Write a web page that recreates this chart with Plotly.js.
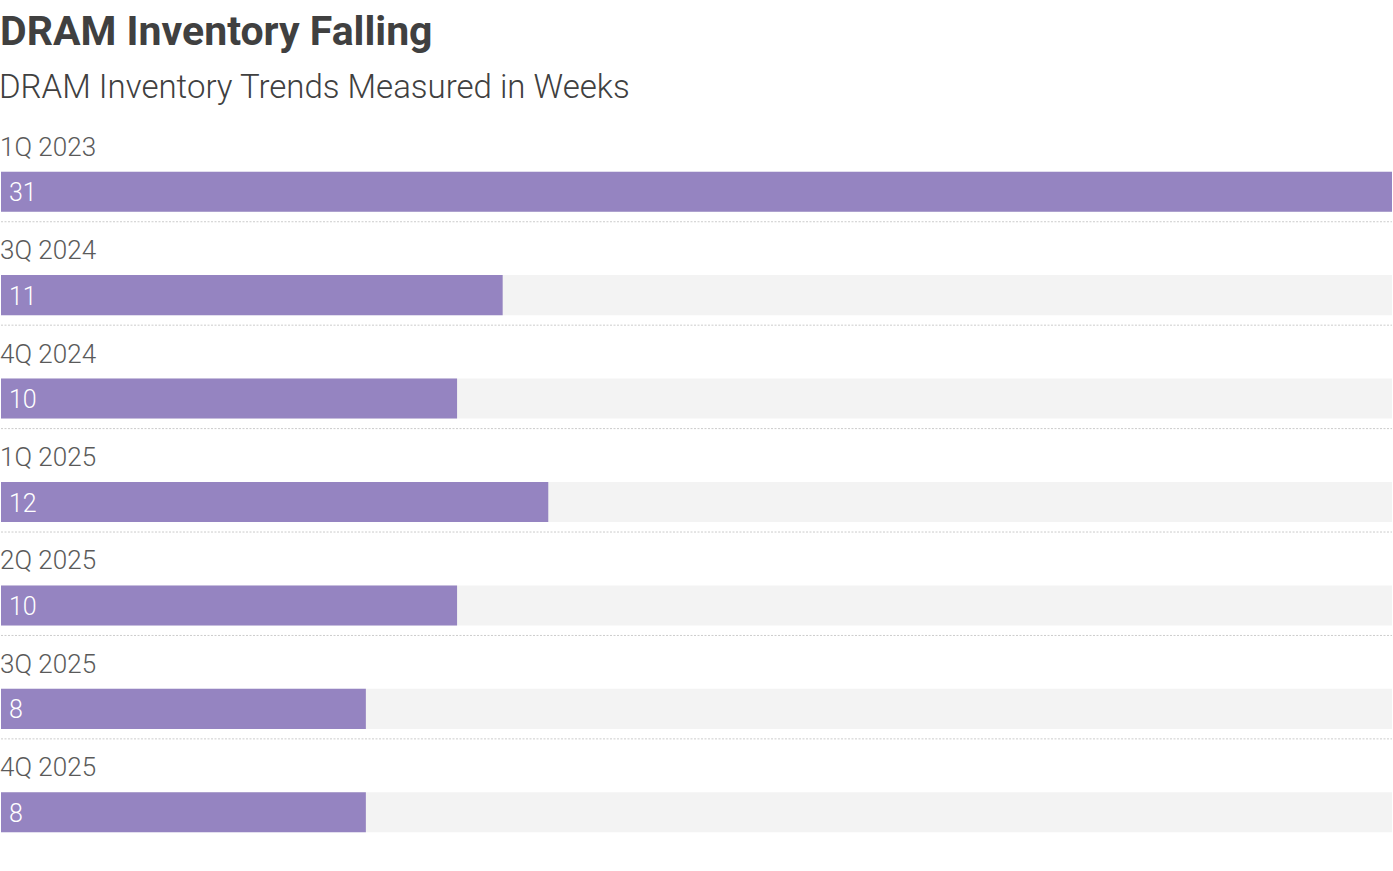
<!DOCTYPE html>
<html>
<head>
<meta charset="utf-8">
<script src="https://cdn.plot.ly/plotly-3.0.1.min.js"></script>
<style>html,body{margin:0;padding:0;background:#fff;}#chart{width:1393px;height:871px;}</style>
</head>
<body>
<div id="chart"></div>
<script>
const categories = ["1Q 2023", "3Q 2024", "4Q 2024", "1Q 2025", "2Q 2025", "3Q 2025", "4Q 2025"];
const weeks = [31, 11, 10, 12, 10, 8, 8];
const titleText = "DRAM Inventory Falling";
const subtitleText = "DRAM Inventory Trends Measured in Weeks";

const FONT = "Roboto, 'Noto Sans', sans-serif";
const PURPLE = "#9584c1";
const pitch = 103.33; // px per category
const barPx = 40;
const halfBar = (barPx / 2) / pitch;

const shapes = [];
categories.forEach((c, i) => {
  shapes.push({
    type: "rect", layer: "below", xref: "paper", yref: "y",
    x0: 0, x1: 1, y0: i - halfBar, y1: i + halfBar,
    fillcolor: "#f3f3f3", line: {width: 0}
  });
  if (i < categories.length - 1) {
    const yy = i + 30 / pitch;
    shapes.push({
      type: "line", layer: "below", xref: "paper", yref: "y",
      x0: 0, x1: 1, y0: yy, y1: yy,
      line: {color: "#cccccc", width: 1, dash: "2px,1.5px"}
    });
  }
});

const annotations = [];
categories.forEach((c, i) => {
  annotations.push({
    xref: "paper", yref: "y", x: 0, y: i, yshift: 45, xshift: -3,
    xanchor: "left", yanchor: "middle", showarrow: false,
    text: c, font: {family: FONT, size: 26, color: "#5a5a5a", weight: 300}
  });
  annotations.push({
    xref: "x", yref: "y", x: 0, y: i, xshift: 6, yshift: -1,
    xanchor: "left", yanchor: "middle", showarrow: false,
    text: String(weeks[i]), font: {family: FONT, size: 25, color: "#ffffff", weight: 300}
  });
});
annotations.push({
  xref: "paper", yref: "paper", x: 0, y: 1 + (140.3 - 87) / 723.3, xshift: -4,
  xanchor: "left", yanchor: "middle", showarrow: false,
  text: subtitleText, font: {family: FONT, size: 33, color: "#404040", weight: 300}
});

const data = [{
  type: "bar", orientation: "h",
  y: categories, x: weeks,
  width: 2 * halfBar,
  marker: {color: PURPLE, line: {width: 0}},
  hoverinfo: "skip", textposition: "none"
}];

const layout = {
  width: 1393, height: 871,
  margin: {l: 1, r: 1, t: 140.3, b: 7.4, pad: 0},
  paper_bgcolor: "#ffffff", plot_bgcolor: "rgba(0,0,0,0)",
  showlegend: false,
  title: {
    text: "<b>" + titleText + "</b>",
    xref: "container", x: 0, xanchor: "left",
    yref: "container", y: 1 - 31 / 871, yanchor: "middle",
    font: {family: FONT, size: 41, color: "#404040"}
  },
  xaxis: {range: [0, 30.5], showticklabels: false, showgrid: false, zeroline: false, showline: false, fixedrange: true},
  yaxis: {type: "category", range: [6.5, -0.5], showticklabels: false, showgrid: false, zeroline: false, showline: false, fixedrange: true},
  shapes: shapes,
  annotations: annotations
};

Plotly.newPlot("chart", data, layout, {displayModeBar: false, staticPlot: true});
</script>
</body>
</html>
